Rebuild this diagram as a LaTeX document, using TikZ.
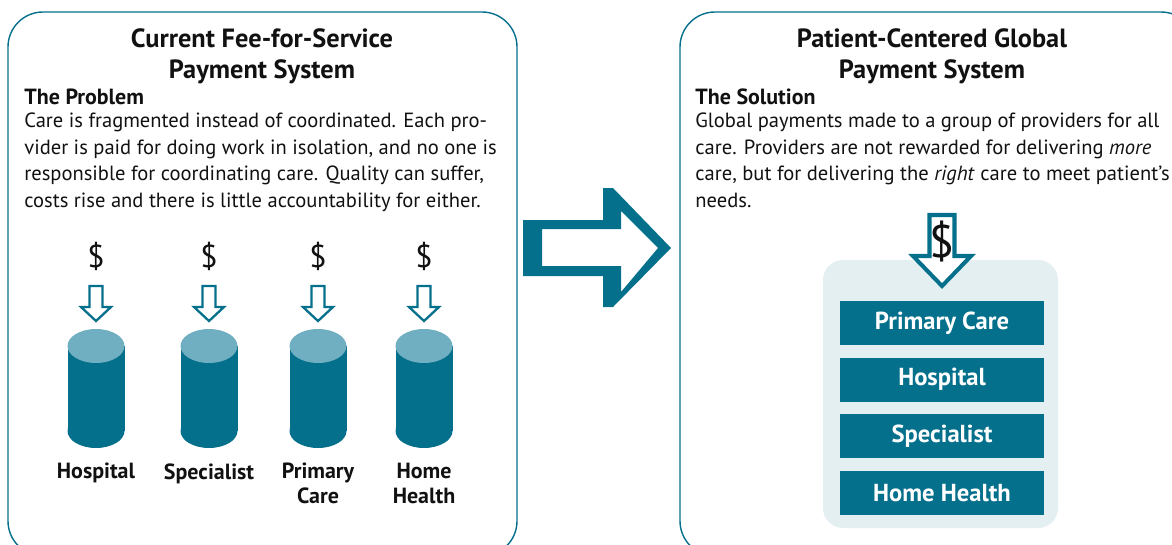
\documentclass[tikz,border=0pt]{standalone}
\usepackage{fontspec}
\setmainfont{PT Sans}
\usetikzlibrary{positioning}
\definecolor{careTeal}{HTML}{05708C}
\definecolor{capTeal}{HTML}{70AEC1}
\definecolor{panelMist}{HTML}{E3EFF1}
\definecolor{inkBody}{HTML}{111111}
\tikzset{
  frame/.style={draw=careTeal, line width=0.8pt, rounded corners=0.7cm},
  title/.style={align=center, inner sep=0pt, font=\fontsize{15}{17.6}\selectfont\bfseries},
  heading/.style={anchor=west, inner sep=0pt, font=\fontsize{12.5}{14.8}\selectfont\bfseries},
  body/.style={anchor=north west, align=left, inner sep=0pt, font=\fontsize{11.7}{15}\selectfont},
  drumlabel/.style={below=0.3cm of #1, align=center, inner sep=0pt,
                    font=\fontsize{12.5}{14.2}\selectfont\bfseries},
  cash/.style={inner sep=0pt, font=\fontsize{18}{18}\selectfont},
  feed/.style={draw=careTeal, line width=1.3pt, fill=white, line join=miter},
  provider/.style={fill=careTeal, text=white, minimum width=4.08cm, minimum height=0.88cm,
                   inner sep=0pt, font=\fontsize{14}{14}\selectfont\bfseries},
  % a teal drum: body, bottom rim and pale lid
  drum/.pic={
    \fill[careTeal] (-28.5,346) rectangle (28.5,431);
    \fill[careTeal] (0,431) ellipse [x radius=28.5, y radius=17];
    \fill[capTeal]  (0,346) ellipse [x radius=28.5, y radius=17];
  },
  % small hollow arrow pointing down
  droparrow/.pic={
    \draw[feed] (-6.5,286) -- (6.5,286) -- (6.5,307) -- (15,307) -- (0,321)
      -- (-15,307) -- (-6.5,307) -- cycle;
  },
}
\begin{document}
\begin{tikzpicture}[x=0.02cm, y=-0.02cm, color=inkBody]
\useasboundingbox (0,0) rectangle (1172,544);

% fee-for-service side
\draw[frame] (8,12) rectangle (517,556);
\node[title] (ffsTitle) at (262,56) {Current Fee-for-Service\\Payment System};
\node[heading] (problem) at (24,97) {The Problem};
\node[body] (problemText) at (24,113) {Care is fragmented instead of coordinated. Each pro-\\
  vider is paid for doing work in isolation, and no one is\\
  responsible for coordinating care. Quality can suffer,\\
  costs rise and there is little accountability for either.};

\pic at (96,0)  {drum};
\pic at (209,0) {drum};
\pic at (318,0) {drum};
\pic at (424,0) {drum};
\coordinate (hospital)   at (96,448);
\coordinate (specialist) at (209,448);
\coordinate (primary)    at (318,448);
\coordinate (home)       at (424,448);

\pic at (96,0)  {droparrow};
\pic at (209,0) {droparrow};
\pic at (318,0) {droparrow};
\pic at (424,0) {droparrow};

\node[cash] (cashHospital)   at (96,256) {\$};
\node[cash] (cashSpecialist) at (209,256) {\$};
\node[cash] (cashPrimary)    at (318,256) {\$};
\node[cash] (cashHome)       at (424,256) {\$};

\node[drumlabel=hospital]   (lblHospital)   {Hospital};
\node[drumlabel=specialist] (lblSpecialist) {Specialist};
\node[drumlabel=primary]    (lblPrimary)    {Primary\\Care};
\node[drumlabel=home]       (lblHome)       {Home\\Health};

% hollow arrow between the two systems
\fill[careTeal, even odd rule]
  (523,220) -- (603,220) -- (603,188) -- (613,188) -- (671,248) -- (613,307) -- (603,307)
  -- (603,276) -- (523,276) -- cycle
  (542,229) -- (621,229) -- (621,211) -- (658,248) -- (621,292) -- (621,266) -- (542,266) -- cycle;

% global payment side
\draw[frame] (680,12) rectangle (1196,556);
\node[title] (globalTitle) at (932,56) {Patient-Centered Global\\Payment System};
\node[heading] (solution) at (695,97) {The Solution};
\node[body] (solutionText) at (695,113) {Global payments made to a group of providers for all\\
  care. Providers are not rewarded for delivering \textit{more}\\
  care, but for delivering the \textit{right} care to meet patient’s\\
  needs.};

\fill[panelMist, rounded corners=0.4cm] (823,260) rectangle (1058,528);
\node[provider] (boxPrimary) at (942,323) {Primary Care};
\node[provider, below=0.24cm of boxPrimary] (boxHospital) {Hospital};
\node[provider, below=0.24cm of boxHospital] (boxSpecialist) {Specialist};
\node[provider, below=0.24cm of boxSpecialist] (boxHome) {Home Health};

\draw[feed, line width=2.3pt] (929.5,215) -- (954.5,215) -- (954.5,256) -- (971,256) -- (942,286)
  -- (913,256) -- (929.5,256) -- cycle;
\node[cash, font=\fontsize{26}{26}\selectfont] (cashGlobal) at (942,242) {\$};
\end{tikzpicture}
\end{document}
